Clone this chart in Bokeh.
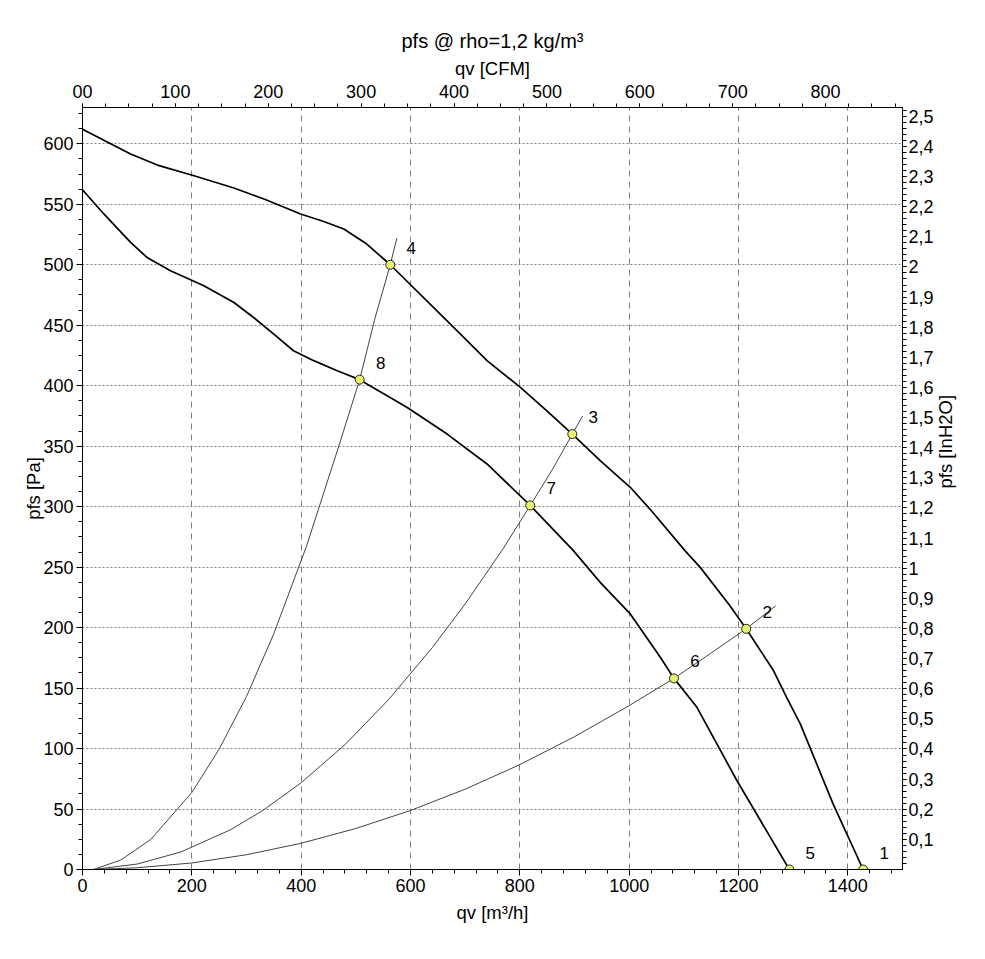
import math
from bokeh.plotting import figure
from bokeh.models import (Range1d, LinearAxis, SingleIntervalTicker, FixedTicker,
                          CustomJSTickFormatter, ColumnDataSource)
from bokeh.core.properties import value
from bokeh.embed import file_html
from bokeh.resources import INLINE

FONT = "Liberation Sans"

# ---- data ----
# fan curve, high speed (points 4,3,2,1)
fan_hi_q = [0, 88, 137, 204, 277, 332, 399, 440, 478, 520, 563, 679, 740, 801, 849, 896,
            947, 1002, 1038, 1102, 1130, 1184, 1214, 1264, 1288, 1313, 1373, 1428]
fan_hi_p = [612, 591.5, 582.4, 573.6, 563.4, 554.3, 541.9, 536, 529.5, 517.1, 500, 448.2,
            420.7, 398.6, 379.3, 360, 338, 316, 298, 263.6, 249.8, 218.2, 199, 164.5,
            142.4, 120.4, 54.3, 0]
# fan curve, low speed (points 8,7,6,5)
fan_lo_q = [0, 39, 88, 118, 161, 222, 277, 313, 350, 386, 423, 466, 507, 594, 667,
            740, 819, 898, 947, 1002, 1057, 1082, 1124, 1197, 1293]
fan_lo_p = [562, 542, 518.5, 506, 495, 482.6, 468.8, 456.4, 442.6, 428.9, 420.7,
            412.4, 405, 382, 360, 335.3, 301, 263.6, 237.4, 211.3, 175.5, 158, 134.1,
            73.6, 0]
# system (resistance) curves
sys_a_q = [20, 70, 125, 200, 250, 300, 350, 410, 470, 507, 535, 563, 575]
sys_a_p = [0, 7.8, 24.9, 63.7, 99.5, 143, 195, 267.6, 351.7, 405, 455.7, 500, 522]
sys_b_q = [20, 100, 180, 270, 330, 400, 480, 560, 640, 700, 770, 819, 860, 896, 915]
sys_b_p = [0, 4.5, 14.5, 32.7, 48.8, 71.7, 103.2, 140.5, 183.5, 219.5, 265.6, 301,
           331, 360, 375]
sys_c_q = [20, 100, 200, 300, 400, 500, 600, 700, 800, 900, 1000, 1082, 1150, 1214, 1268]
sys_c_p = [0, 1.4, 5.4, 12.2, 21.7, 33.9, 48.8, 66.4, 86.7, 109.8, 135.5, 158, 179,
           199, 218]
# operating points
pt_labels = ["1", "2", "3", "4", "5", "6", "7", "8"]
pt_q = [1428, 1214, 896, 563, 1293, 1082, 819, 507]
pt_p = [0, 199, 360, 500, 0, 158, 301, 405]

# axis ticks
inh2o_ticks = [0.1, 0.2, 0.3, 0.4, 0.5, 0.6, 0.7, 0.8, 0.9, 1.0, 1.1, 1.2, 1.3,
               1.4, 1.5, 1.6, 1.7, 1.8, 1.9, 2.0, 2.1, 2.2, 2.3, 2.4, 2.5]
inh2o_minor = [round(0.02 * i, 2) for i in range(1, 127)]

M3H_PER_CFM = 1.699
PA_PER_INH2O = 249.089
X_MAX, Y_MAX = 1500, 630

p = figure(width=969, height=943, output_backend="svg", toolbar_location=None,
           x_range=Range1d(0, X_MAX), y_range=Range1d(0, Y_MAX),
           min_border_left=82, min_border_right=66, min_border_top=107,
           min_border_bottom=74)
p.background_fill_color = "white"
p.border_fill_color = "white"
p.outline_line_color = "black"

p.title.text = "pfs @ rho=1,2 kg/m³"
p.title.align = "center"
p.title.text_font = FONT
p.title.text_font_size = "20px"
p.title.text_font_style = "normal"
p.title.text_color = "black"
p.title.standoff = 6

p.extra_x_ranges = {"cfm": Range1d(0, X_MAX / M3H_PER_CFM)}
p.extra_y_ranges = {"inh2o": Range1d(0, Y_MAX / PA_PER_INH2O)}


def style(ax, major_out=6, minor_out=4):
    ax.axis_line_color = "black"
    ax.major_tick_line_color = "black"
    ax.minor_tick_line_color = "black"
    ax.major_tick_in = 0
    ax.minor_tick_in = 0
    ax.major_tick_out = major_out
    ax.minor_tick_out = minor_out
    ax.major_label_text_font = FONT
    ax.major_label_text_font_size = "18px"
    ax.major_label_text_color = "black"
    ax.major_label_standoff = 3
    ax.axis_label_text_font = FONT
    ax.axis_label_text_font_size = "18.5px"
    ax.axis_label_text_font_style = "normal"
    ax.axis_label_text_color = "black"
    ax.axis_label_standoff = 5


bottom = p.xaxis[0]
bottom.ticker = SingleIntervalTicker(interval=200, num_minor_ticks=5)
bottom.axis_label = "qv [m³/h]"
style(bottom)
bottom.axis_label_standoff = 7

left = p.yaxis[0]
left.ticker = SingleIntervalTicker(interval=50, num_minor_ticks=4)
left.axis_label = "pfs [Pa]"
style(left)
left.axis_label_standoff = -4

top = LinearAxis(x_range_name="cfm", axis_label="qv [CFM]",
                 ticker=SingleIntervalTicker(interval=100, num_minor_ticks=4),
                 formatter=CustomJSTickFormatter(
                     code="return tick == 0 ? '00' : tick.toFixed(0);"))
style(top, 4, 4)
top.major_label_standoff = 6
top.axis_label_standoff = 3
p.add_layout(top, "above")

right = LinearAxis(y_range_name="inh2o", axis_label="pfs [InH2O]",
                   ticker=FixedTicker(ticks=inh2o_ticks, minor_ticks=inh2o_minor),
                   formatter=CustomJSTickFormatter(
                       code="var s = (Math.round(tick*10)/10).toString(); return s.replace('.', ',');"))
style(right, 4, 4)
right.major_label_standoff = 2
right.axis_label_standoff = 9
try:
    right.axis_label_orientation = math.pi / 2
except Exception:
    pass
p.add_layout(right, "right")

p.xgrid.ticker = SingleIntervalTicker(interval=200)
p.xgrid.grid_line_color = "#808080"
p.xgrid.grid_line_dash = "6 5"
p.xgrid.grid_line_width = 1
p.ygrid.ticker = SingleIntervalTicker(interval=50)
p.ygrid.grid_line_color = "#808080"
p.ygrid.grid_line_dash = "2 2"
p.ygrid.grid_line_width = 1

for q, pr in [(sys_a_q, sys_a_p), (sys_b_q, sys_b_p), (sys_c_q, sys_c_p)]:
    p.line(q, pr, line_color="#444444", line_width=1)

p.line(fan_hi_q, fan_hi_p, line_color="black", line_width=1.7)
p.line(fan_lo_q, fan_lo_p, line_color="black", line_width=1.7)

src = ColumnDataSource(dict(q=pt_q, p=pt_p, t=pt_labels))
p.scatter("q", "p", source=src, size=9, fill_color="#e8f56c",
          line_color="#222222", line_width=1)
p.text("q", "p", text="t", source=src, x_offset=21, y_offset=-17,
       text_font=value(FONT), text_font_size="17px", text_color="black",
       text_align="center", text_baseline="middle")

open("out.html", "w").write(file_html(p, INLINE))
